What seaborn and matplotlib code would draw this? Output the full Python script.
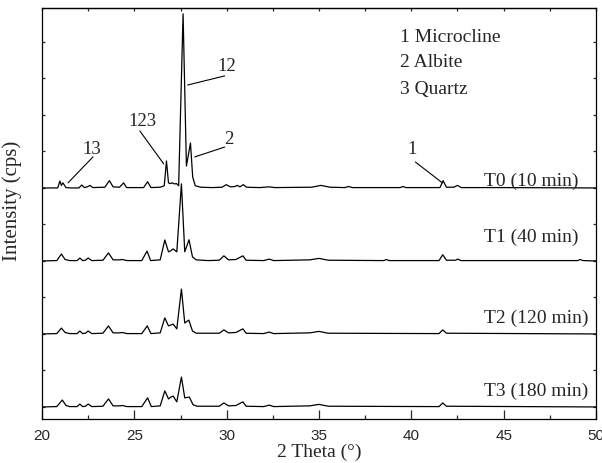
import matplotlib
matplotlib.use("Agg")
import matplotlib.pyplot as plt
from matplotlib.ticker import MultipleLocator, NullFormatter
import seaborn as sns
import pandas as pd

# ---- data (2 Theta in degrees, intensity in cps above each trace's baseline) ----
t0_x = [20.0, 20.85, 20.97, 21.05, 21.13, 21.3, 21.6, 22.0, 22.15, 22.3, 22.45, 22.6, 22.75,
        23.4, 23.65, 23.85, 24.2, 24.42, 24.58, 25.0, 25.5, 25.72, 25.9, 26.4, 26.62, 26.74,
        26.85, 26.95, 27.05, 27.17, 27.28, 27.4, 27.64, 27.82, 28.04, 28.16, 28.3, 28.6, 29.2,
        29.75, 29.98, 30.2, 30.45, 30.58, 30.72, 30.9, 31.08, 31.8, 32.3, 32.6, 34.6, 35.1,
        35.6, 36.4, 36.6, 36.8, 39.4, 39.55, 39.7, 41.55, 41.72, 41.9, 42.3, 42.5, 42.7, 45.0, 50.0]
t0_y = [0, 0, 190, 70, 140, 10, 0, 0, 80, 10, 30, 70, 10,
        20, 200, 30, 20, 140, 10, 10, 10, 170, 10, 20, 60, 740,
        140, 120, 140, 110, 120, 60, 4770, 600, 1230, 300, 60, 20, 10,
        20, 90, 30, 40, 70, 30, 90, 20, 10, 30, 10, 20, 70,
        20, 10, 40, 10, 10, 40, 10, 10, 200, 20, 20, 70, 10, 10, 0]

t1_x = [20.0, 20.8, 21.05, 21.25, 21.5, 21.9, 22.05, 22.2, 22.35, 22.5, 22.7, 23.3, 23.6, 23.85,
        24.2, 24.35, 24.6, 25.4, 25.69, 25.88, 26.4, 26.65, 26.85, 26.95, 27.1, 27.3, 27.55,
        27.73, 27.96, 28.15, 28.35, 29.0, 29.6, 29.85, 30.1, 30.5, 30.88, 31.05, 32.0, 32.3,
        32.55, 34.5, 35.0, 35.5, 38.5, 38.65, 38.8, 41.5, 41.7, 41.9, 42.4, 42.5, 42.7, 49.0,
        49.15, 49.3, 50.0]
t1_y = [0, 10, 190, 40, 10, 10, 80, 10, 20, 80, 10, 20, 220, 30,
        30, 40, 10, 10, 270, 10, 30, 575, 250, 270, 330, 250, 2110,
        250, 580, 110, 30, 10, 20, 140, 30, 40, 140, 20, 10, 50,
        10, 30, 70, 20, 10, 40, 10, 10, 170, 20, 20, 50, 10, 10,
        40, 10, 0]

t2_x = [20.0, 20.8, 21.05, 21.25, 21.5, 21.9, 22.05, 22.2, 22.35, 22.5, 22.7, 23.3, 23.6, 23.85,
        24.2, 24.35, 24.6, 25.4, 25.7, 25.9, 26.4, 26.65, 26.85, 26.95, 27.1, 27.3, 27.55,
        27.73, 27.95, 28.15, 28.35, 29.6, 29.85, 30.1, 30.5, 30.88, 31.05, 32.0, 32.3, 32.55,
        34.5, 35.0, 35.5, 41.5, 41.7, 41.9, 50.0]
t2_y = [0, 10, 160, 40, 10, 10, 80, 10, 20, 80, 10, 20, 220, 30,
        30, 40, 10, 10, 220, 10, 30, 440, 220, 240, 270, 140, 1230,
        300, 380, 80, 20, 20, 110, 30, 40, 140, 20, 10, 50, 10,
        30, 70, 20, 10, 110, 20, 0]

t3_x = [20.0, 20.8, 21.1, 21.3, 21.5, 21.9, 22.05, 22.2, 22.35, 22.5, 22.7, 23.3, 23.6, 23.85,
        24.2, 24.35, 24.6, 25.4, 25.72, 25.92, 26.4, 26.65, 26.85, 26.95, 27.1, 27.3, 27.55,
        27.73, 27.98, 28.18, 28.4, 29.6, 29.85, 30.1, 30.5, 30.88, 31.05, 32.0, 32.3, 32.55,
        34.5, 35.0, 35.5, 41.5, 41.7, 41.9, 50.0]
t3_y = [0, 10, 190, 40, 10, 10, 80, 10, 20, 80, 10, 20, 220, 30,
        30, 40, 10, 10, 250, 10, 30, 440, 220, 260, 300, 140, 820,
        250, 270, 60, 20, 20, 110, 30, 40, 140, 20, 10, 50, 10,
        30, 70, 20, 10, 110, 20, 0]

trace_names = ["T0 (10 min)", "T1 (40 min)", "T2 (120 min)", "T3 (180 min)"]
trace_offsets = [6000, 4000, 2000, 0]
phase_legend = ["1 Microcline", "2 Albite", "3 Quartz"]
peak_labels = ["13", "123", "12", "2", "1"]

# ---- style ----
sns.set_style("ticks")
plt.rcParams["font.family"] = ["Liberation Serif", "DejaVu Serif"]

fig = plt.figure(figsize=(6.02, 4.63), dpi=100)
ax = fig.add_axes([42 / 602, 1 - 419 / 463, (596 - 42) / 602, (419 - 8) / 463])

xs = [t0_x, t1_x, t2_x, t3_x]
ys = [t0_y, t1_y, t2_y, t3_y]
for name, x, y, off in zip(trace_names, xs, ys, trace_offsets):
    df = pd.DataFrame({"two_theta": x, "intensity": [v + off for v in y]})
    sns.lineplot(data=df, x="two_theta", y="intensity", color="black", lw=0.9,
                 estimator=None, sort=False, ax=ax)

ax.set_xlim(20, 50)
ax.set_ylim(-330, 10930)

# ticks
ax.xaxis.set_major_locator(MultipleLocator(5))
ax.xaxis.set_minor_locator(MultipleLocator(2.5))
ax.yaxis.set_major_locator(MultipleLocator(1000))
ax.yaxis.set_major_formatter(NullFormatter())
ax.tick_params(axis="x", which="major", direction="in", length=6.5, width=0.9,
               top=False, pad=7)
ax.tick_params(axis="x", which="minor", direction="in", length=3, width=0.9, top=False)
ax.tick_params(axis="y", which="major", direction="in", length=2.5, width=0.9,
               left=True, right=True)
for lab in ax.get_xticklabels():
    lab.set_fontfamily(["Liberation Sans", "DejaVu Sans"])
    lab.set_fontsize(11)

top = ax.secondary_xaxis("top")
top.xaxis.set_major_locator(MultipleLocator(2.5))
top.tick_params(direction="in", length=2, width=0.9, labeltop=False)

for s in ax.spines.values():
    s.set_linewidth(0.9)
    s.set_color("black")
for s in top.spines.values():
    s.set_linewidth(0.9)

ax.set_xlabel("2 Theta (°)", fontsize=14, labelpad=1)
ax.set_ylabel("Intensity (cps)", fontsize=15)
ax.yaxis.set_label_coords(-0.036, 0.53)

# phase legend text
for txt, yy in zip(phase_legend, [10110, 9430, 8710]):
    ax.text(39.4, yy, txt, fontsize=14, ha="left", va="center")

# trace labels
for txt, yy in zip(trace_names, [6190, 4660, 2440, 430]):
    ax.text(43.95, yy, txt, fontsize=14, ha="left", va="center")

# peak annotations (label position, leader line start -> end)
ann_text_pos = [(22.70, 7040), (25.46, 7810), (30.0, 9320), (30.11, 7320), (40.05, 7040)]
ann_line_start = [(22.76, 6850), (25.30, 7560), (29.89, 9070), (29.89, 7120), (40.22, 6710)]
ann_line_end = [(21.41, 6140), (26.59, 6660), (27.89, 8820), (28.27, 6850), (41.68, 6140)]
for lab, tp, ls, le in zip(peak_labels, ann_text_pos, ann_line_start, ann_line_end):
    ax.text(tp[0], tp[1], lab, fontsize=13.5, ha="center", va="center")
    ax.annotate("", xy=le, xytext=ls,
                arrowprops=dict(arrowstyle="-", color="black", lw=0.8,
                                shrinkA=0, shrinkB=0))

fig.savefig("out.png", dpi=100)
